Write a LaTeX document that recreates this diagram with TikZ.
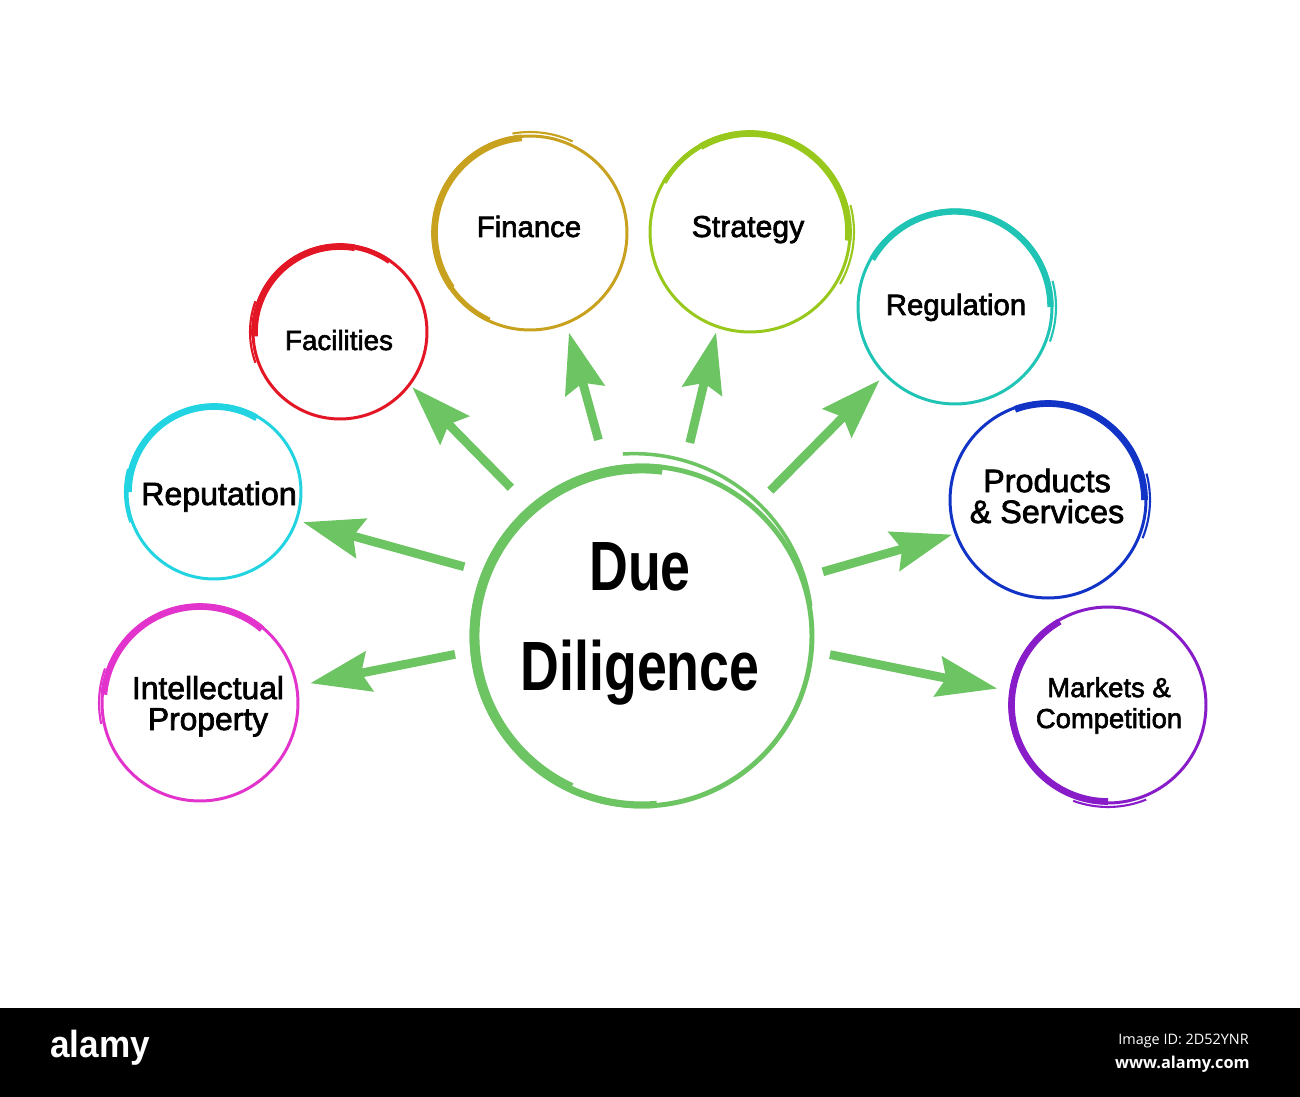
\documentclass[tikz,border=0pt]{standalone}
\usepackage{graphicx}
\usepackage{fontspec}
\setmainfont{Liberation Sans}
\newfontfamily\lblfont{Liberation Sans}[FakeBold=2.2]
\newfontfamily\wmfont{Open Sans}
\usetikzlibrary{arrows.meta}
\definecolor{arrgreen}{RGB}{108,196,98}
\definecolor{cfin}{RGB}{200,162,30}
\definecolor{cstr}{RGB}{152,200,28}
\definecolor{cfac}{RGB}{226,22,36}
\definecolor{creg}{RGB}{32,196,180}
\definecolor{crep}{RGB}{34,212,226}
\definecolor{cprod}{RGB}{18,52,198}
\definecolor{cip}{RGB}{226,52,204}
\definecolor{cmkt}{RGB}{136,28,200}
% node, colour, start angle, end angle, radius, width
\newcommand\brusharc[6]{\draw[#2, line width=#6] ([shift={(#3:#5)}]#1.center) arc[start angle=#3, end angle=#4, radius=#5];}
\begin{document}
\begin{tikzpicture}[x=0.02cm, y=-0.02cm,
  bub/.style={circle, draw=#1, line width=1.7pt, inner sep=0pt, outer sep=0pt},
  lbl/.style={font=\lblfont\fontsize{#1}{17.6}\selectfont, align=center, inner sep=0pt, anchor=base, text=black},
  arr/.style={draw=arrgreen, line width=5pt, -{Stealth[length=1.2cm, width=0.8cm, inset=0.16cm]}}
]
\useasboundingbox (0,0) rectangle (1300,1097);
\fill[white] (0,0) rectangle (1300,1097);

% circles
\node[bub=arrgreen, line width=2.8pt, minimum size=6.8cm] (c) at (642,636) {};
\node[bub=cfin,  minimum size=3.88cm] (fin)  at (530,233) {};
\node[bub=cstr,  minimum size=4.00cm] (str)  at (750,232) {};
\node[bub=cfac,  minimum size=3.48cm] (fac)  at (340,332) {};
\node[bub=creg,  minimum size=3.88cm] (reg)  at (955,307) {};
\node[bub=crep,  minimum size=3.48cm] (rep)  at (214,492) {};
\node[bub=cprod, minimum size=3.92cm] (prod) at (1048,500) {};
\node[bub=cip,   minimum size=3.92cm] (ip)   at (200,703) {};
\node[bub=cmkt,  minimum size=3.92cm] (mkt)  at (1108,705) {};

% brush strokes (thick parts and overshoots)
\brusharc{c}{arrgreen}{83}{245}{3.35cm}{5.6pt}
\brusharc{c}{arrgreen}{245}{275}{3.38cm}{4pt}
\draw[arrgreen, line width=2pt] plot[domain=96:10, samples=40]
  ({642+cos(\x)*(170+13*\x/96)}, {636-sin(\x)*(170+13*\x/96)});

\brusharc{fin}{cfin}{95}{215}{1.91cm}{3.8pt}
\brusharc{fin}{cfin}{215}{245}{1.92cm}{2.8pt}
\brusharc{fin}{cfin}{65}{100}{2.02cm}{1.2pt}

\brusharc{str}{cstr}{-5}{120}{1.97cm}{3.8pt}
\brusharc{str}{cstr}{120}{150}{1.98cm}{2.8pt}
\brusharc{str}{cstr}{-30}{15}{2.08cm}{1.2pt}

\brusharc{fac}{cfac}{80}{183}{1.71cm}{3.8pt}
\brusharc{fac}{cfac}{55}{80}{1.72cm}{2.8pt}
\brusharc{fac}{cfac}{160}{200}{1.80cm}{1.2pt}

\brusharc{reg}{creg}{0}{150}{1.91cm}{3.6pt}
\brusharc{reg}{creg}{-20}{15}{2.02cm}{1.2pt}

\brusharc{rep}{crep}{60}{180}{1.71cm}{3.8pt}
\brusharc{rep}{crep}{165}{200}{1.78cm}{1.2pt}

\brusharc{prod}{cprod}{0}{110}{1.93cm}{3.8pt}
\brusharc{prod}{cprod}{-22}{15}{2.04cm}{1.2pt}

\brusharc{ip}{cip}{50}{175}{1.93cm}{3.8pt}
\brusharc{ip}{cip}{160}{192}{2.02cm}{1.2pt}

\brusharc{mkt}{cmkt}{120}{270}{1.93cm}{3.8pt}
\brusharc{mkt}{cmkt}{250}{292}{2.04cm}{1.2pt}

% labels (anchor=base is the baseline of the last line)
\node[font=\bfseries\fontsize{39.7}{56.7}\selectfont, align=center, inner sep=0pt, anchor=base] (ct) at (640,690)
  {\scalebox{0.77}[1]{Due}\\\scalebox{0.77}[1]{Diligence}};
\node[lbl=16.7] (fint)  at (529,237) {Finance};
\node[lbl=17.2] (strt)  at (748,237) {Strategy};
\node[lbl=15.8] (fact)  at (339,350) {Facilities};
\node[lbl=16.7] (regt)  at (956,315) {Regulation};
\node[lbl=18.3] (rept)  at (219,505) {Reputation};
\node[lbl=18.4] (prodt) at (1047,523) {Products\\\& Services};
\node[lbl=18.1] (ipt)   at (208,730) {Intellectual\\Property};
\node[lbl=15.6] (mktt)  at (1109,728) {Markets \&\\Competition};

% arrows
\draw[arr, shorten <=0.42cm, shorten >=0.14cm] (c.158.5) -- (rep.341.4);
\draw[arr, shorten <=0.36cm, shorten >=0.28cm] (c.185.2) -- (ip.10.8);
\draw[arr, shorten <=0.56cm, shorten >=0.08cm] (c.131.1) -- (fac.323.5);
\draw[arr, shorten <=0.62cm, shorten >=0.20cm] (c.102.7) -- (fin.292.5);
\draw[arr, shorten <=0.58cm, shorten >=0.12cm] (c.76.7) -- (str.251.2);
\draw[arr, shorten <=0.48cm, shorten >=0.16cm] (c.49.8) -- (reg.224.2);
\draw[arr, shorten <=0.44cm, shorten >=0.08cm] (c.20.4) -- (prod.200.8);
\draw[arr, shorten <=0.38cm, shorten >=0.28cm] (c.355.1) -- (mkt.172.3);

% bottom banner
\fill[black] (0,1008) rectangle (1300,1097);
\node[font=\bfseries\fontsize{21.5}{22}\selectfont, text=white, anchor=base west, inner sep=0pt] (logo) at (50,1057) {\scalebox{0.93}[1]{alamy}};
\node[font=\wmfont\fontsize{8.2}{9}\selectfont, text=white, anchor=base east, inner sep=0pt] (imgid) at (1249,1044) {Image ID: 2D52YNR};
\node[font=\wmfont\bfseries\fontsize{9.3}{10}\selectfont, text=white, anchor=base east, inner sep=0pt] (url) at (1250,1068) {www.alamy.com};
\end{tikzpicture}
\end{document}
